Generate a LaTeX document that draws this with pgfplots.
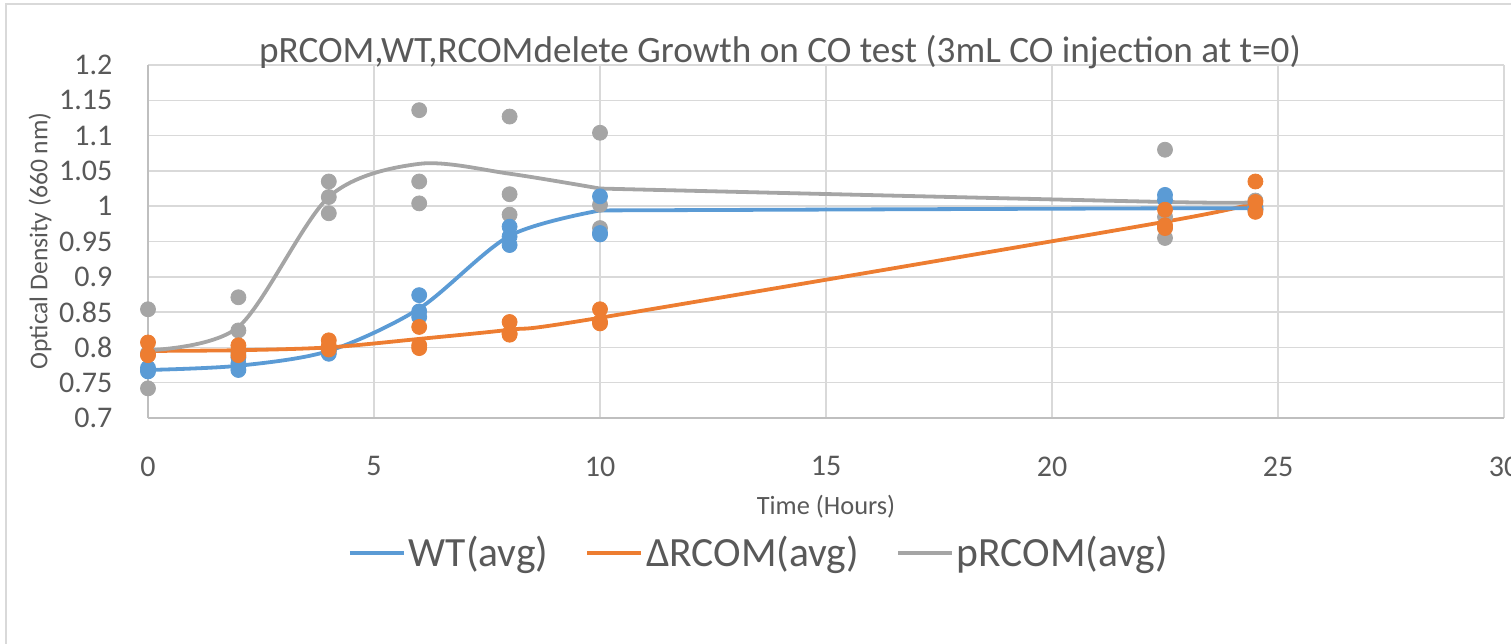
\documentclass[border=0pt]{standalone}
\usepackage{fontspec}
\setmainfont{Carlito}
\usepackage{pgfplots}
\pgfplotsset{compat=1.18}
\definecolor{wt}{HTML}{5B9BD5}
\definecolor{drc}{HTML}{ED7D31}
\definecolor{prc}{HTML}{A5A5A5}
\definecolor{txt}{HTML}{595959}
\definecolor{grd}{HTML}{D9D9D9}
\definecolor{axl}{HTML}{BFBFBF}

\begin{document}
\begin{tikzpicture}
\useasboundingbox (0,0) rectangle (755.5pt,321.5pt);
% chart frame (cropped)
\draw[grd, line width=0.7pt] (3pt,-10pt) -- (3pt,319.5pt) -- (780pt,319.5pt);
\begin{axis}[
    at={(74pt,112.5pt)}, anchor=south west,
    scale only axis, width=678pt, height=176.5pt,
    xmin=0, xmax=30, ymin=0.7, ymax=1.2,
    enlargelimits=false, clip=false,
    axis lines=left,
    axis line style={draw=axl, line width=0.75pt, -},
    grid=major,
    major grid style={grd, line width=0.75pt},
    tick style={draw=none},
    xtick={0,5,10,15,20,25,30},
    xticklabels={0,5,10,15,20,25,30},
    ytick={0.7,0.75,0.8,0.85,0.9,0.95,1,1.05,1.1,1.15,1.2},
    yticklabels={0.7,0.75,0.8,0.85,0.9,0.95,1,1.05,1.1,1.15,1.2},
    tick label style={font=\fontsize{15}{18}\selectfont, text=txt, inner sep=0pt},
    xticklabel style={anchor=north, yshift=-17pt},
    yticklabel style={anchor=east, xshift=-15.5pt},
    legend columns=3,
    legend style={at={(0.451,-0.382)}, anchor=center, draw=none, fill=none,
      font=\fontsize{20.8}{24}\selectfont, text=txt,
      nodes={inner sep=1.5pt},
      /tikz/every even column/.append style={column sep=17pt}},
    legend image code/.code={\draw[#1, line width=1.9pt] (0pt,0pt) -- (27pt,0pt);},
  ]
  % averages (smoothed lines)
  \addplot[wt, line width=1.9pt, smooth, no markers] coordinates {
    (0,0.768) (2,0.774) (4,0.795) (6,0.855) (8,0.958) (10,0.994)};
  \addlegendentry{WT(avg)}
  \addplot[drc, line width=1.9pt, smooth, no markers] coordinates {
    (0,0.795) (2,0.796) (4,0.800) (6,0.812) (8,0.825) (10,0.842) (22.5,0.978) (24.5,1.006)};
  \addlegendentry{ΔRCOM(avg)}
  \addplot[prc, line width=1.9pt, smooth, no markers] coordinates {
    (0,0.796) (2,0.829) (4,1.013) (6,1.060) (8,1.046) (10,1.025)};
  \addlegendentry{pRCOM(avg)}
  \addplot[wt, line width=1.9pt, smooth, no markers, forget plot] coordinates {
    (10,0.994) (22.5,0.997) (24.5,0.997)};
  \addplot[prc, line width=1.9pt, smooth, no markers, forget plot] coordinates {
    (10,1.025) (22.5,1.006) (24.5,1.006)};

  % replicate measurements
  \addplot[only marks, mark=*, mark size=3.75pt, prc, forget plot] coordinates {
    (0,0.854) (0,0.742) (0,0.792)
    (2,0.871) (2,0.824) (2,0.793)
    (4,1.035) (4,1.013) (4,0.990)
    (6,1.136) (6,1.035) (6,1.004)
    (8,1.127) (8,1.017) (8,0.988)
    (10,1.104) (10,1.002) (10,0.969)
    (22.5,1.080) (22.5,0.985) (22.5,0.955)
    (24.5,1.008) (24.5,1.000) (24.5,0.996)};
  \addplot[only marks, mark=*, mark size=3.75pt, wt, forget plot] coordinates {
    (0,0.771) (0,0.768) (0,0.766)
    (2,0.786) (2,0.777) (2,0.768)
    (4,0.791) (4,0.795) (4,0.798)
    (6,0.874) (6,0.851) (6,0.843)
    (8,0.971) (8,0.957) (8,0.945)
    (10,1.014) (10,0.960) (10,0.962)
    (22.5,1.016) (22.5,1.009) (22.5,0.970)
    (24.5,0.999) (24.5,0.996) (24.5,0.995)};
  \addplot[only marks, mark=*, mark size=3.75pt, drc, forget plot] coordinates {
    (0,0.807) (0,0.790) (0,0.789)
    (2,0.803) (2,0.795) (2,0.789)
    (4,0.810) (4,0.802) (4,0.797)
    (6,0.829) (6,0.803) (6,0.799)
    (8,0.836) (8,0.820) (8,0.818)
    (10,0.854) (10,0.836) (10,0.834)
    (22.5,0.995) (22.5,0.973) (22.5,0.969)
    (24.5,1.035) (24.5,1.006) (24.5,0.992)};
\end{axis}
% title and axis titles
\node[anchor=base, font=\fontsize{18.6}{22}\selectfont, text=txt] at (390pt,290pt)
  {pRCOM,WT,RCOMdelete Growth on CO test (3mL CO injection at t=0)};
\node[font=\fontsize{13.2}{16}\selectfont, text=txt] at (413pt,68pt) {Time (Hours)};
\node[rotate=90, font=\fontsize{12.8}{15}\selectfont, text=txt] at (20pt,201pt) {Optical Density (660 nm)};
\end{tikzpicture}
\end{document}
